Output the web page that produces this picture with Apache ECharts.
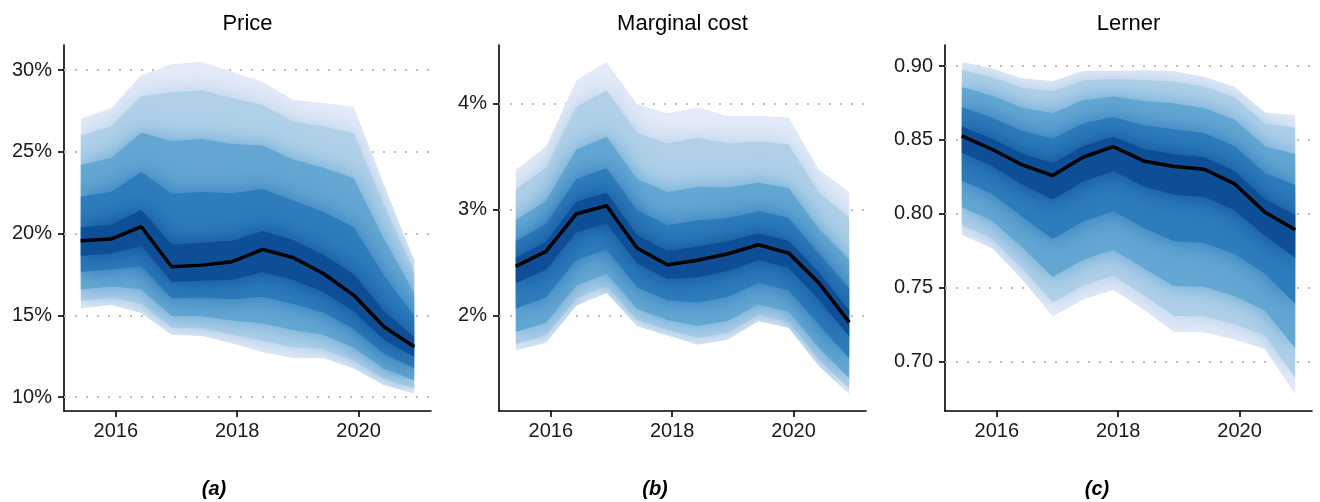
<!DOCTYPE html>
<html>
<head>
<meta charset="utf-8">
<script src="https://cdn.jsdelivr.net/npm/echarts@6/dist/echarts.min.js"></script>
<style>
  html, body { margin: 0; padding: 0; background: #fff; }
  #chart { width: 1320px; height: 502px; }
</style>
</head>
<body>
<div id="chart"></div>
<script>
// half-year observation dates, in decimal years
const years = [2015.42, 2015.92, 2016.42, 2016.92, 2017.42, 2017.92, 2018.42, 2018.92, 2019.42, 2019.92, 2020.42, 2020.92];

// Price (%): outer edges, four inner contours per side, median
const priceTop = [27.05, 27.66, 29.69, 30.37, 30.50, 29.90, 29.29, 28.20, 28.00, 27.76, 23.00, 18.35];
const priceHi4 = [26.00, 26.54, 28.39, 28.63, 28.76, 28.27, 27.85, 26.85, 26.54, 26.15, 21.78, 17.61];
const priceHi3 = [24.20, 24.62, 26.17, 25.66, 25.78, 25.48, 25.39, 24.53, 24.03, 23.38, 19.69, 16.35];
const priceHi2 = [22.26, 22.54, 23.76, 22.43, 22.54, 22.46, 22.72, 22.02, 21.32, 20.39, 17.43, 14.98];
const priceHi1 = [20.38, 20.54, 21.44, 19.33, 19.44, 19.56, 20.16, 19.60, 18.71, 17.51, 15.26, 13.66];
const priceMid = [19.56, 19.66, 20.42, 17.97, 18.07, 18.28, 19.03, 18.54, 17.56, 16.24, 14.30, 13.08];
const priceLo1 = [18.65, 18.77, 19.25, 17.05, 17.12, 17.18, 17.65, 17.18, 16.42, 15.25, 13.51, 12.45];
const priceLo2 = [17.66, 17.81, 17.98, 16.05, 16.07, 15.98, 16.14, 15.70, 15.17, 14.17, 12.66, 11.76];
const priceLo3 = [16.58, 16.76, 16.60, 14.96, 14.95, 14.68, 14.51, 14.10, 13.82, 13.01, 11.73, 11.01];
const priceLo4 = [15.88, 16.07, 15.70, 14.25, 14.21, 13.83, 13.44, 13.05, 12.94, 12.24, 11.12, 10.52];
const priceBottom = [15.42, 15.63, 15.12, 13.79, 13.73, 13.28, 12.75, 12.37, 12.37, 11.75, 10.73, 10.20];

// Marginal cost (%)
const mcTop = [3.376, 3.596, 4.223, 4.395, 3.997, 3.909, 3.966, 3.884, 3.887, 3.871, 3.376, 3.172];
const mcHi4 = [3.194, 3.398, 3.971, 4.124, 3.726, 3.624, 3.678, 3.624, 3.644, 3.615, 3.163, 2.926];
const mcHi3 = [2.903, 3.082, 3.567, 3.689, 3.291, 3.167, 3.216, 3.209, 3.255, 3.206, 2.822, 2.531];
const mcHi2 = [2.703, 2.865, 3.290, 3.391, 2.993, 2.854, 2.899, 2.923, 2.987, 2.925, 2.587, 2.260];
const mcHi1 = [2.549, 2.697, 3.075, 3.160, 2.762, 2.611, 2.654, 2.703, 2.780, 2.707, 2.406, 2.051];
const mcMid = [2.467, 2.608, 2.962, 3.038, 2.640, 2.483, 2.524, 2.586, 2.671, 2.592, 2.310, 1.940];
const mcLo1 = [2.308, 2.436, 2.789, 2.874, 2.493, 2.349, 2.365, 2.424, 2.527, 2.451, 2.153, 1.804];
const mcLo2 = [2.070, 2.177, 2.529, 2.627, 2.271, 2.149, 2.127, 2.181, 2.310, 2.239, 1.918, 1.600];
const mcLo3 = [1.848, 1.936, 2.287, 2.397, 2.065, 1.962, 1.905, 1.955, 2.109, 2.042, 1.699, 1.410];
const mcLo4 = [1.737, 1.815, 2.166, 2.282, 1.962, 1.868, 1.794, 1.842, 2.008, 1.943, 1.590, 1.314];
const mcBottom = [1.674, 1.746, 2.097, 2.216, 1.903, 1.815, 1.730, 1.777, 1.950, 1.887, 1.527, 1.260];

// Lerner index
const lernerTop = [0.9029, 0.8984, 0.8917, 0.8899, 0.8968, 0.8968, 0.8973, 0.8966, 0.8928, 0.8860, 0.8685, 0.8669];
const lernerHi4 = [0.8974, 0.8924, 0.8853, 0.8829, 0.8904, 0.8912, 0.8905, 0.8895, 0.8859, 0.8788, 0.8611, 0.8584];
const lernerHi3 = [0.8858, 0.8798, 0.8718, 0.8681, 0.8769, 0.8794, 0.8764, 0.8746, 0.8715, 0.8637, 0.8456, 0.8405];
const lernerHi2 = [0.8723, 0.8650, 0.8560, 0.8509, 0.8611, 0.8655, 0.8598, 0.8572, 0.8546, 0.8459, 0.8274, 0.8195];
const lernerHi1 = [0.8592, 0.8508, 0.8407, 0.8342, 0.8459, 0.8522, 0.8438, 0.8404, 0.8383, 0.8288, 0.8099, 0.7993];
const lernerMid = [0.8527, 0.8437, 0.8331, 0.8259, 0.8383, 0.8455, 0.8358, 0.8320, 0.8302, 0.8203, 0.8011, 0.7892];
const lernerLo1 = [0.8413, 0.8323, 0.8199, 0.8097, 0.8219, 0.8290, 0.8187, 0.8129, 0.8114, 0.8024, 0.7854, 0.7702];
const lernerLo2 = [0.8226, 0.8136, 0.7981, 0.7830, 0.7949, 0.8019, 0.7905, 0.7815, 0.7805, 0.7729, 0.7595, 0.7390];
const lernerLo3 = [0.8045, 0.7955, 0.7772, 0.7573, 0.7689, 0.7757, 0.7633, 0.7512, 0.7507, 0.7444, 0.7345, 0.7089];
const lernerLo4 = [0.7925, 0.7835, 0.7632, 0.7401, 0.7515, 0.7583, 0.7452, 0.7310, 0.7308, 0.7254, 0.7178, 0.6888];
const lernerBottom = [0.7858, 0.7768, 0.7554, 0.7306, 0.7419, 0.7486, 0.7351, 0.7198, 0.7198, 0.7149, 0.7086, 0.6777];

const titles = ['Price', 'Marginal cost', 'Lerner'];
const captions = ['(a)', '(b)', '(c)'];
const yearTicks = [2016, 2018, 2020];
const priceTicks = [10, 15, 20, 25, 30];
const mcTicks = [2, 3, 4];
const lernerTicks = [0.70, 0.75, 0.80, 0.85, 0.90];

// outer band first, darkest core last
const bandColors = ['#e4eaf8', '#b0d0e8', '#64a7d3', '#2e7cbb', '#0d4e97'];
const FONT = 'Liberation Sans, Arial, sans-serif';

const panels = [
  { lows: [priceBottom, priceLo4, priceLo3, priceLo2, priceLo1], highs: [priceTop, priceHi4, priceHi3, priceHi2, priceHi1], mid: priceMid,
    ticks: priceTicks, min: 9.15, max: 31.53, fmt: v => v + '%', left: 64 },
  { lows: [mcBottom, mcLo4, mcLo3, mcLo2, mcLo1], highs: [mcTop, mcHi4, mcHi3, mcHi2, mcHi1], mid: mcMid,
    ticks: mcTicks, min: 1.105, max: 4.552, fmt: v => v + '%', left: 499 },
  { lows: [lernerBottom, lernerLo4, lernerLo3, lernerLo2, lernerLo1], highs: [lernerTop, lernerHi4, lernerHi3, lernerHi2, lernerHi1], mid: lernerMid,
    ticks: lernerTicks, min: 0.6667, max: 0.9142, fmt: v => v.toFixed(2), left: 945 }
];
const GRID_W = 367, GRID_TOP = 45, GRID_H = 366;

// all nested bands of one panel, drawn outer to inner; inner bands get a soft
// same-colour shadow so the steps blend, clipped to the outer outline
function fanSeries(k, lows, highs) {
  return {
    type: 'custom', xAxisIndex: k, yAxisIndex: k, z: 2, silent: true,
    data: years.map((x, i) => [x, lows[0][i], highs[0][i]]),
    encode: { x: 0, y: [1, 2] },
    renderItem(params, api) {
      if (params.dataIndex !== 0) return;
      const outline = (lo, hi) => {
        const pts = [];
        for (let i = 0; i < years.length; i++) pts.push(api.coord([years[i], hi[i]]));
        for (let i = years.length - 1; i >= 0; i--) pts.push(api.coord([years[i], lo[i]]));
        return pts;
      };
      const children = lows.map((lo, b) => ({
        type: 'polygon',
        shape: { points: outline(lo, highs[b]) },
        style: { fill: bandColors[b], shadowBlur: b ? 22 : 0, shadowColor: bandColors[b], shadowOffsetX: 0, shadowOffsetY: 0 }
      }));
      return {
        type: 'group', children,
        clipPath: { type: 'polygon', shape: { points: outline(lows[0], highs[0]) } }
      };
    }
  };
}

const grid = [], xAxis = [], yAxis = [], series = [], graphic = [];

panels.forEach((p, k) => {
  grid.push({ left: p.left, top: GRID_TOP, width: GRID_W, height: GRID_H });
  const axisLine = { show: true, onZero: false, lineStyle: { color: '#000', width: 1.6 } };
  xAxis.push({
    type: 'value', gridIndex: k, min: 2015.145, max: 2021.195,
    axisLine,
    axisTick: { show: true, customValues: yearTicks, length: 6, lineStyle: { color: '#000', width: 1.6 } },
    axisLabel: { customValues: yearTicks, formatter: v => String(v), fontSize: 20, color: '#1a1a1a', fontFamily: FONT, margin: 10 },
    splitLine: { show: false }
  });
  yAxis.push({
    type: 'value', gridIndex: k, min: p.min, max: p.max,
    axisLine,
    axisTick: { show: true, customValues: p.ticks, length: 6, lineStyle: { color: '#000', width: 1.6 } },
    axisLabel: { customValues: p.ticks, formatter: p.fmt, fontSize: 20, color: '#1a1a1a', fontFamily: FONT, margin: 12 },
    splitLine: { show: false }
  });

  // dotted horizontal guides behind the fan
  series.push({
    type: 'line', xAxisIndex: k, yAxisIndex: k, data: [], z: 1, silent: true,
    markLine: {
      z: 1, silent: true, symbol: ['none', 'none'], label: { show: false },
      lineStyle: { type: [2, 9], color: '#bdbdbd', width: 2 },
      data: p.ticks.map(v => ({ yAxis: v }))
    }
  });

  series.push(fanSeries(k, p.lows, p.highs));

  series.push({
    type: 'line', xAxisIndex: k, yAxisIndex: k, z: 10, silent: true,
    symbol: 'none', lineStyle: { color: '#000', width: 3.5 },
    data: p.mid.map((v, i) => [years[i], v])
  });

  graphic.push({
    type: 'text', silent: true,
    style: { x: p.left + GRID_W / 2, y: 24, text: titles[k], font: '22px ' + FONT, fill: '#000',
      textAlign: 'center', textVerticalAlign: 'middle', align: 'center', verticalAlign: 'middle' }
  });
});

[214, 655, 1097].forEach((cx, k) => {
  graphic.push({
    type: 'text', silent: true,
    style: { x: cx, y: 489, text: captions[k], font: 'italic bold 20px ' + FONT, fill: '#000',
      textAlign: 'center', textVerticalAlign: 'middle', align: 'center', verticalAlign: 'middle' }
  });
});

const chart = echarts.init(document.getElementById('chart'), null, { renderer: 'canvas' });
chart.setOption({
  animation: false,
  backgroundColor: '#fff',
  grid, xAxis, yAxis, series, graphic
});
</script>
</body>
</html>
